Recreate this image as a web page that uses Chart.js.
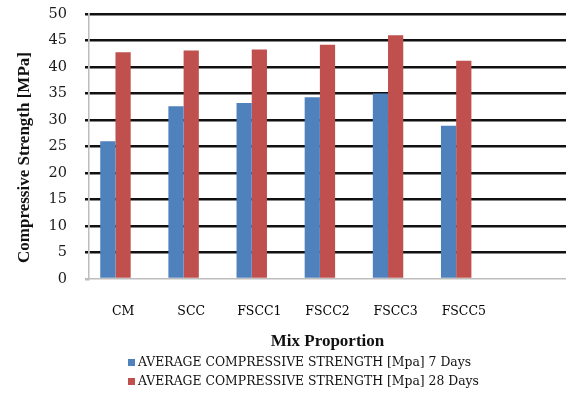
<!DOCTYPE html>
<html>
<head>
<meta charset="utf-8">
<script src="https://cdn.jsdelivr.net/npm/chart.js@4/dist/chart.umd.min.js"></script>
<style>
  html, body { margin: 0; padding: 0; background: #fff; }
  #wrap { width: 566px; height: 394px; }
</style>
</head>
<body>
<div id="wrap"><canvas id="strength"></canvas></div>
<script>
// mix designs (last slot is an empty category on the axis)
const mixes = ['CM', 'SCC', 'FSCC1', 'FSCC2', 'FSCC3', 'FSCC5', ''];
// average compressive strength, MPa
const strength7 = [26.0, 32.6, 33.2, 34.3, 35.0, 28.9];
const strength28 = [42.8, 43.1, 43.3, 44.2, 46.0, 41.2];
// third (empty) series keeps the Excel-style spacing inside each group
const spacer = [];
const yMin = 0, yMax = 50, yStep = 5;

const label7 = 'AVERAGE COMPRESSIVE STRENGTH [Mpa] 7 Days';
const label28 = 'AVERAGE COMPRESSIVE STRENGTH [Mpa] 28 Days';
const yTitle = 'Compressive Strength [MPa]';

// y title sits a little below the plot middle, legend is a stacked list
const extras = {
  id: 'extras',
  afterDraw(chart) {
    const ctx = chart.ctx;
    const area = chart.chartArea;
    ctx.save();
    ctx.translate(25, (area.top + area.bottom) / 2 + 11);
    ctx.rotate(-Math.PI / 2);
    ctx.font = 'bold 17px "Liberation Serif"';
    ctx.fillStyle = '#111';
    ctx.textAlign = 'center';
    ctx.textBaseline = 'middle';
    ctx.fillText(yTitle, 0, 0);
    ctx.restore();

    ctx.save();
    ctx.font = '12.4px "DejaVu Serif"';
    ctx.textBaseline = 'middle';
    let y = area.bottom + 83;
    chart.data.datasets.forEach(ds => {
      if (!ds.label) return;
      ctx.fillStyle = ds.backgroundColor;
      ctx.fillRect(128, y - 3, 7, 7);
      ctx.fillStyle = '#111';
      ctx.fillText(ds.label, 138, y + 1);
      y += 19;
    });
    ctx.restore();
  }
};

new Chart(document.getElementById('strength'), {
  type: 'bar',
  data: {
    labels: mixes,
    datasets: [
      { label: label7, data: strength7, backgroundColor: '#4F81BD' },
      { label: label28, data: strength28, backgroundColor: '#C0504D' },
      { label: '', data: spacer, backgroundColor: 'rgba(0,0,0,0)' }
    ]
  },
  options: {
    responsive: true,
    maintainAspectRatio: false,
    animation: false,
    layout: { padding: { top: 14, right: 0, bottom: 42, left: 0 } },
    datasets: { bar: { categoryPercentage: 0.67, barPercentage: 1.0 } },
    plugins: {
      legend: { display: false },
      tooltip: { enabled: false }
    },
    scales: {
      x: {
        grid: { display: false, drawTicks: false },
        border: { color: '#bdbdbd', width: 1.5 },
        ticks: {
          padding: 25,
          color: '#000',
          font: { family: '"DejaVu Serif"', size: 12.5 },
          maxRotation: 0
        },
        title: {
          display: true,
          text: 'Mix Proportion',
          color: '#111',
          font: { family: '"Liberation Serif"', size: 17, weight: 'bold' },
          padding: { top: 0, bottom: 0 }
        },
        afterFit(scale) { scale.height = 73; }
      },
      y: {
        min: yMin,
        max: yMax,
        ticks: {
          stepSize: yStep,
          padding: 18,
          color: '#1a1a1a',
          font: { family: '"DejaVu Serif"', size: 14.5 }
        },
        grid: {
          color: c => c.tick && c.tick.value === 0 ? 'rgba(0,0,0,0)' : '#111',
          tickColor: c => c.tick && c.tick.value === 0 ? '#bdbdbd' : '#111',
          lineWidth: 2.5,
          tickLength: 4
        },
        border: { color: '#bdbdbd', width: 1.5 },
        afterFit(scale) {
          scale.width = 89;
          scale.paddingTop = 0;
          scale.paddingBottom = 0;
        }
      }
    }
  },
  plugins: [extras]
});
</script>
</body>
</html>
